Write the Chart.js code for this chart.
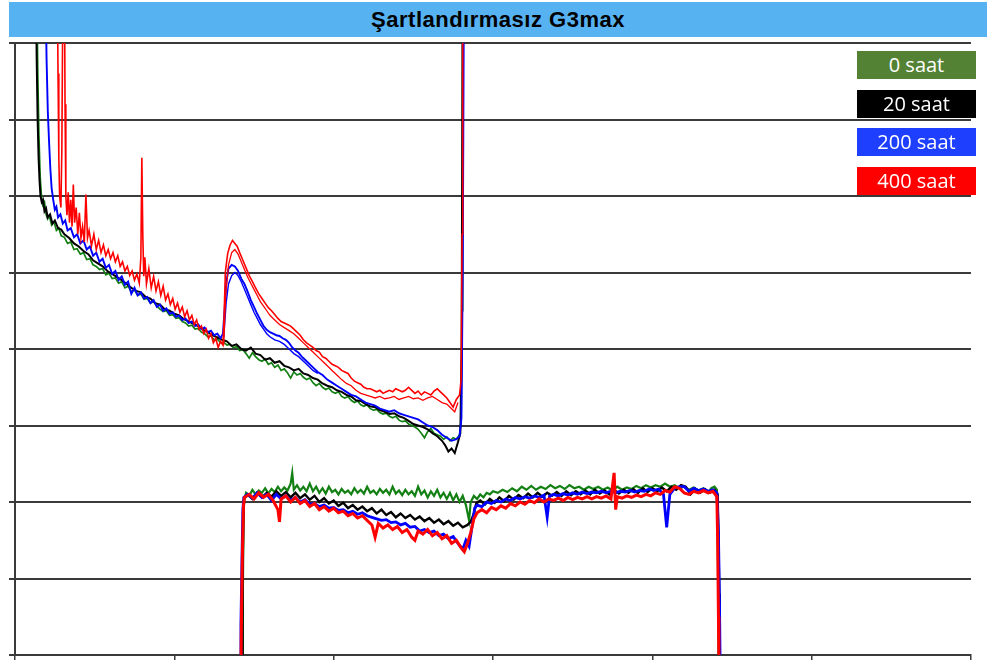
<!DOCTYPE html>
<html>
<head>
<meta charset="utf-8">
<script src="https://cdn.jsdelivr.net/npm/chart.js@4"></script>
<style>
html,body{margin:0;padding:0;background:#fff;}
#wrap{position:relative;width:987px;height:662px;overflow:hidden;}
#title{position:absolute;left:9px;top:2px;width:978px;height:35px;background:#57b2f2;
  font-family:"Liberation Sans",Arial,sans-serif;font-weight:bold;font-size:22px;letter-spacing:0.5px;
  color:#000;text-align:center;line-height:35px;}
.lg{position:absolute;left:857px;width:119px;height:28px;color:#fff;font-family:"Open Sans",sans-serif;
  font-size:20px;line-height:28px;text-align:center;}
canvas{position:absolute;left:0;top:0;}
</style>
</head>
<body>
<div id="wrap">
<canvas id="c" width="987" height="662"></canvas>
<div id="title">Şartlandırmasız G3max</div>
<div id="legend"></div>
</div>
<script>
// ---- data ----
const xTicks = [0, 100, 200, 300, 400, 500, 600];
const yTicks = [0, 1, 2, 3, 4, 5, 6, 7, 8];
const seriesNames = ["0 saat", "20 saat", "200 saat", "400 saat"];

const greenCurve = [[13.5,9],[14.3,7.6],[15,6.8],[15.8,6.25],[16.6,6.0],[17.5,5.88],[18.5,5.92],[19.5,5.76],[20.5,5.7],[21.5,5.74],[23,5.62],[24.5,5.66],[26,5.55],[27.5,5.58],[29,5.48],[31,5.46],[33,5.38],[35,5.4],[37,5.3],[39,5.31],[41,5.24],[43,5.26],[45,5.17],[47,5.18],[49,5.1],[51,5.08],[53,5.04],[55,5.05],[57,4.97],[59,4.99],[61,4.92],[63,4.93],[65,4.86],[67,4.88],[69,4.8],[71,4.82],[73,4.75],[75,4.77],[77,4.7],[79,4.72],[81,4.65],[83,4.66],[85,4.6],[87,4.62],[89,4.56],[91,4.52],[93,4.49],[95,4.5],[97,4.44],[99,4.45],[101,4.4],[103,4.41],[105,4.36],[107,4.34],[109,4.3],[111,4.31],[113,4.26],[115,4.27],[117,4.22],[119,4.2],[121,4.16],[123,4.17],[125,4.12],[127,4.13],[129,4.08],[131,4.09],[133,4.05],[135,4.06],[137,4.02],[139,4.03],[141,3.98],[143,3.99],[145,3.94],[147,3.88],[149,3.95],[151,3.9],[153,3.86],[155,3.84],[157,3.87],[159,3.8],[161,3.82],[163,3.76],[165,3.79],[167,3.72],[169,3.74],[171,3.69],[173,3.62],[175,3.7],[177,3.66],[179,3.68],[181,3.63],[183,3.6],[185,3.62],[187,3.56],[189,3.52],[191,3.55],[193,3.5],[195,3.47],[197,3.49],[199,3.44],[201,3.42],[203,3.44],[205,3.38],[207,3.36],[209,3.38],[211,3.33],[213,3.3],[215,3.32],[217,3.27],[219,3.25],[221,3.27],[223,3.22],[225,3.2],[227,3.21],[229,3.17],[231,3.15],[233,3.16],[235,3.12],[237,3.1],[239,3.12],[241,3.07],[243,3.05],[245,3.06],[247,3.02],[249,3.0],[251,2.98],[253,2.95],[255,2.9],[257,2.84],[259,2.92],[261,2.96],[263,2.9],[265,2.88],[267,2.86],[269,2.82],[271,2.85],[273,2.8],[275,2.84],[277,2.82],[279,2.88],[280,3.05],[280.6,4.5],[281,9]];

const blackCurve = [[13,9],[13.6,7.8],[14.2,7.0],[14.8,6.5],[15.4,6.2],[16,6.0],[16.8,5.92],[17.6,5.95],[18.5,5.8],[19.5,5.84],[20.5,5.72],[22,5.76],[23.5,5.64],[25,5.68],[27,5.58],[29,5.56],[31,5.5],[34,5.45],[37,5.38],[40,5.34],[43,5.28],[46,5.24],[49,5.16],[52,5.12],[55,5.08],[58,5.02],[61,4.98],[64,4.94],[67,4.9],[70,4.85],[73,4.8],[76,4.76],[79,4.74],[82,4.68],[85,4.66],[88,4.6],[91,4.58],[94,4.52],[97,4.5],[100,4.46],[103,4.44],[106,4.39],[109,4.36],[112,4.33],[115,4.3],[118,4.25],[121,4.22],[124,4.18],[127,4.15],[130,4.12],[133,4.1],[136,4.04],[139,4.06],[142,4.0],[145,3.98],[148,4.02],[151,3.94],[154,3.92],[157,3.86],[160,3.88],[163,3.82],[166,3.84],[169,3.78],[172,3.76],[175,3.72],[178,3.74],[181,3.68],[184,3.66],[187,3.62],[190,3.6],[193,3.55],[196,3.52],[199,3.5],[202,3.46],[205,3.44],[208,3.4],[211,3.38],[214,3.33],[217,3.32],[220,3.28],[223,3.25],[226,3.24],[229,3.2],[232,3.18],[235,3.15],[238,3.16],[241,3.12],[244,3.1],[247,3.06],[250,3.02],[253,3.0],[256,2.98],[259,2.95],[262,2.9],[265,2.86],[268,2.8],[270,2.74],[272,2.66],[274,2.7],[276,2.64],[278,2.78],[279.5,2.9],[280.3,4],[281,9]];

const blueCurve = [[19,9],[19.8,7.8],[20.6,7.1],[21.4,6.7],[22.2,6.35],[23,6.1],[24,5.95],[25,5.82],[26,5.86],[27,5.72],[28.5,5.76],[30,5.64],[31.5,5.68],[33,5.55],[35,5.58],[37,5.46],[39,5.5],[41,5.38],[43,5.42],[45,5.3],[47,5.34],[49,5.22],[51,5.26],[53,5.14],[55,5.18],[57,5.06],[59,5.1],[61,4.98],[63,5.02],[65,4.9],[67,4.95],[69,4.84],[71,4.88],[73,4.72],[75,4.8],[77,4.7],[79,4.74],[81,4.66],[83,4.68],[85,4.6],[87,4.64],[89,4.55],[91,4.58],[93,4.5],[95,4.53],[97,4.46],[99,4.48],[101,4.42],[103,4.44],[105,4.38],[107,4.4],[109,4.34],[111,4.36],[113,4.3],[115,4.32],[117,4.26],[119,4.28],[121,4.22],[123,4.24],[125,4.18],[127,4.2],[129,4.14],[130.5,4.2],[131.5,4.5],[132.5,4.85],[134,5.05],[136,5.1],[138,5.08],[140,5.02],[142,4.92],[144,4.85],[146,4.75],[148,4.64],[150,4.55],[152,4.46],[154,4.38],[156,4.3],[158,4.25],[160,4.22],[162,4.2],[164,4.18],[166,4.17],[168,4.14],[170,4.12],[172,4.08],[174,4.02],[176,3.98],[178,3.95],[180,3.9],[182,3.86],[184,3.82],[186,3.78],[188,3.74],[190,3.7],[193,3.66],[196,3.6],[199,3.56],[202,3.52],[205,3.48],[208,3.44],[211,3.4],[214,3.38],[217,3.34],[220,3.3],[223,3.28],[226,3.26],[229,3.22],[232,3.2],[235,3.18],[238,3.2],[241,3.16],[244,3.14],[247,3.12],[250,3.1],[253,3.08],[256,3.04],[259,3.0],[262,2.98],[265,2.94],[268,2.88],[271,2.84],[274,2.8],[277,2.82],[279,2.86],[280.2,3.1],[281,5],[281.8,9]];

const blueCurveB = [[131,4.15],[132.5,4.6],[134,4.85],[136,4.96],[138,5.0],[140,4.96],[142,4.88],[144,4.78],[146,4.68],[148,4.58],[150,4.48],[152,4.4],[154,4.32],[156,4.26],[158,4.2],[160,4.16],[163,4.12],[166,4.1],[169,4.06],[172,4.0],[175,3.94],[178,3.9],[181,3.84],[184,3.78],[187,3.72],[190,3.68]];

const redCurve = [[26.5,9],[27,7.6],[27.5,6.5],[28,6.0],[28.8,5.85],[29.4,6.6],[29.9,8.2],[30.3,9],[31,9],[31.4,7.2],[31.9,6.0],[32.6,5.75],[33.4,6.05],[34.2,5.65],[35,5.95],[35.8,5.6],[36.6,6.15],[37.4,5.65],[38.4,5.85],[39.4,5.5],[40.4,5.78],[41.4,5.45],[42.4,5.6],[43.5,5.4],[44.5,6.02],[45.5,5.45],[46.5,5.55],[48,5.35],[49.5,5.5],[51,5.3],[52.5,5.42],[54,5.26],[55.5,5.36],[57,5.22],[58.5,5.3],[60,5.18],[61.5,5.26],[63,5.14],[64.5,5.22],[66,5.08],[67.5,5.14],[69,5.02],[70.5,5.08],[72,4.96],[73.5,5.02],[75,4.9],[76.5,4.98],[78,4.86],[79,5.2],[79.6,6.5],[80.2,5.5],[80.8,4.95],[81.5,5.2],[82.5,4.85],[84,5.05],[85.5,4.8],[87,4.95],[88.5,4.76],[90,4.88],[91.5,4.7],[93,4.82],[94.5,4.64],[96,4.72],[97.5,4.58],[99,4.66],[100.5,4.52],[102,4.6],[103.5,4.48],[105,4.55],[106.5,4.42],[108,4.5],[109.5,4.38],[111,4.44],[112.5,4.32],[114,4.38],[115.5,4.26],[117,4.3],[118.5,4.2],[120,4.26],[121.5,4.14],[123,4.2],[124.5,4.08],[126,4.14],[127.5,4.02],[129,4.1],[130.5,4.05],[131.2,4.4],[132,5.0],[133.5,5.25],[135,5.36],[136.5,5.42],[138,5.38],[139.5,5.34],[141,5.26],[143,5.16],[145,5.06],[147,4.96],[149,4.88],[151,4.8],[153,4.72],[155,4.66],[157,4.6],[159,4.54],[161,4.5],[163,4.45],[165,4.4],[167,4.36],[169,4.34],[171,4.32],[173,4.3],[175,4.26],[177,4.22],[179,4.18],[181,4.12],[183,4.08],[185,4.05],[187,4.02],[189,3.98],[191,3.96],[193,3.9],[195,3.88],[197,3.84],[199,3.8],[201,3.78],[203,3.76],[205,3.72],[207,3.7],[209,3.68],[211,3.62],[213,3.58],[215,3.56],[217,3.54],[219,3.5],[221,3.48],[223,3.48],[225,3.46],[227,3.44],[229,3.46],[231,3.42],[233,3.44],[235,3.46],[237,3.44],[239,3.48],[241,3.46],[243,3.44],[245,3.46],[247,3.5],[249,3.46],[251,3.42],[253,3.45],[255,3.4],[257,3.44],[259,3.42],[261,3.4],[263,3.45],[265,3.48],[267,3.44],[269,3.4],[271,3.36],[273,3.3],[275,3.24],[277,3.34],[279,3.4],[280,3.6],[280.6,5.5],[281,9]];

const redCurveB = [[131,4.05],[132.2,4.7],[134,5.1],[136,5.26],[138,5.3],[140,5.24],[142,5.14],[144,5.04],[146,4.94],[148,4.86],[150,4.78],[152,4.7],[154,4.62],[156,4.56],[158,4.5],[160,4.44],[163,4.38],[166,4.32],[169,4.28],[172,4.24],[175,4.2],[178,4.14],[181,4.08],[184,4.02],[187,3.96],[190,3.9],[193,3.84],[196,3.78],[199,3.72],[202,3.66],[205,3.6],[208,3.55],[211,3.52],[214,3.46],[217,3.42],[220,3.4],[223,3.38],[226,3.36],[229,3.38],[232,3.35],[235,3.36],[238,3.38],[241,3.34],[244,3.36],[247,3.38],[250,3.35],[253,3.36],[256,3.33],[259,3.36],[262,3.38],[265,3.34],[268,3.3],[271,3.28],[274,3.22],[276,3.18],[278,3.3]];

const greenPlateau = [[142.8,-0.2],[143,0.8],[143.4,1.7],[143.8,2.02],[145,2.12],[147,2.08],[149,2.16],[151,2.1],[153,2.15],[155,2.12],[157,2.18],[159,2.11],[161,2.17],[163,2.13],[165,2.2],[167,2.14],[169,2.19],[171,2.15],[173,2.24],[174,2.38],[175,2.16],[177,2.22],[179,2.15],[181,2.2],[183,2.14],[185,2.24],[187,2.14],[189,2.2],[191,2.12],[193,2.18],[195,2.11],[197,2.2],[199,2.13],[201,2.16],[203,2.1],[205,2.17],[207,2.12],[209,2.15],[211,2.1],[213,2.18],[215,2.12],[217,2.16],[219,2.11],[221,2.2],[223,2.12],[225,2.15],[227,2.1],[229,2.17],[231,2.12],[233,2.16],[235,2.1],[237,2.2],[239,2.11],[241,2.15],[243,2.09],[245,2.16],[247,2.1],[249,2.14],[251,2.08],[253,2.2],[255,2.1],[257,2.15],[259,2.06],[261,2.14],[263,2.08],[265,2.16],[267,2.06],[269,2.12],[271,2.04],[273,2.12],[275,2.02],[277,2.1],[279,2.0],[281,2.08],[283,1.96],[285,1.76],[286,2.0],[288,2.08],[290,2.04],[292,2.1],[294,2.06],[296,2.12],[298,2.1],[300,2.14],[303,2.12],[306,2.16],[309,2.13],[312,2.18],[315,2.14],[318,2.2],[321,2.16],[324,2.21],[327,2.16],[330,2.2],[333,2.17],[336,2.22],[339,2.18],[342,2.21],[345,2.17],[348,2.22],[351,2.18],[354,2.2],[357,2.16],[360,2.2],[363,2.17],[366,2.2],[369,2.16],[372,2.19],[375,2.15],[378,2.2],[381,2.16],[384,2.19],[387,2.17],[390,2.21],[393,2.18],[396,2.22],[399,2.19],[402,2.22],[405,2.2],[408,2.24],[411,2.2],[414,2.22],[417,2.18],[420,2.2],[423,2.16],[426,2.19],[429,2.15],[432,2.18],[435,2.12],[437,2.18],[439,2.2],[440.5,2.16],[441.2,1.2],[441.6,-0.2]];

const blackPlateau = [[142.5,-0.2],[142.8,1.0],[143.3,1.8],[143.8,2.05],[146,2.1],[149,2.04],[152,2.12],[155,2.06],[158,2.12],[161,2.07],[164,2.14],[167,2.08],[170,2.13],[173,2.06],[176,2.12],[179,2.05],[182,2.1],[185,2.03],[188,2.08],[191,2.0],[194,2.05],[197,1.98],[200,2.02],[203,1.95],[206,1.99],[209,1.92],[212,1.96],[215,1.9],[218,1.94],[221,1.88],[224,1.92],[227,1.85],[230,1.9],[233,1.83],[236,1.87],[239,1.8],[242,1.85],[245,1.79],[248,1.83],[251,1.77],[254,1.81],[257,1.75],[260,1.79],[263,1.73],[266,1.77],[269,1.71],[272,1.75],[275,1.69],[278,1.73],[281,1.67],[284,1.7],[286,1.74],[288,1.85],[289.5,1.98],[292,2.02],[295,1.97],[298,2.04],[301,1.99],[304,2.06],[307,2.01],[310,2.08],[313,2.03],[316,2.09],[319,2.05],[322,2.11],[325,2.06],[328,2.12],[331,2.07],[334,2.12],[337,2.08],[340,2.13],[343,2.08],[346,2.14],[349,2.09],[352,2.14],[355,2.1],[358,2.15],[361,2.1],[364,2.16],[367,2.11],[370,2.15],[373,2.1],[376,2.16],[379,2.11],[382,2.16],[385,2.12],[388,2.17],[391,2.12],[394,2.18],[397,2.13],[400,2.18],[403,2.14],[406,2.19],[409,2.14],[412,2.2],[415,2.16],[418,2.22],[421,2.2],[424,2.1],[427,2.17],[430,2.12],[433,2.17],[436,2.12],[439,2.16],[441,2.1],[441.6,1.4],[442,0.8],[442.3,-0.2]];

const bluePlateau = [[141.5,-0.2],[141.8,0.4],[142.4,1.2],[143,1.9],[143.6,2.06],[146,2.1],[149,2.05],[152,2.12],[155,2.06],[158,2.1],[161,2.02],[164,2.1],[167,2.04],[170,2.08],[173,2.02],[176,2.06],[179,2.0],[182,2.03],[185,1.97],[188,1.98],[191,1.94],[194,1.96],[197,1.92],[200,1.93],[203,1.89],[206,1.9],[209,1.86],[212,1.88],[215,1.84],[218,1.86],[221,1.82],[224,1.8],[227,1.78],[230,1.76],[233,1.77],[236,1.73],[239,1.74],[242,1.7],[245,1.72],[248,1.67],[251,1.68],[254,1.62],[257,1.64],[260,1.6],[263,1.62],[266,1.56],[269,1.58],[272,1.52],[275,1.55],[278,1.46],[281,1.38],[283,1.5],[285,1.42],[287,1.7],[288.5,1.92],[290,1.96],[293,1.94],[296,2.0],[299,1.98],[302,2.02],[305,2.0],[308,2.04],[311,2.02],[314,2.06],[317,2.04],[320,2.07],[323,2.05],[326,2.08],[329,2.06],[332,2.09],[334,1.8],[335.5,2.08],[338,2.1],[341,2.08],[344,2.11],[347,2.09],[350,2.12],[353,2.1],[356,2.13],[359,2.11],[362,2.13],[365,2.12],[368,2.14],[371,2.12],[374,2.14],[377,2.12],[380,2.14],[383,2.13],[386,2.15],[389,2.13],[392,2.15],[395,2.14],[398,2.17],[401,2.15],[404,2.17],[407,2.1],[409,1.67],[411,2.1],[414,2.18],[417,2.2],[420,2.2],[423,2.14],[426,2.18],[429,2.15],[432,2.17],[435,2.14],[438,2.16],[440.5,2.12],[441.5,1.6],[442.2,0.6],[442.6,-0.2]];

const redPlateau = [[141.8,-0.2],[142.2,0.6],[142.8,1.4],[143.4,1.95],[144,2.06],[147,2.1],[150,2.04],[153,2.12],[156,2.06],[159,2.1],[162,2.02],[165,1.9],[166,1.74],[167,2.04],[170,2.08],[173,2.0],[176,2.06],[179,1.98],[182,2.02],[185,1.94],[188,1.98],[191,1.9],[194,1.94],[197,1.88],[200,1.92],[203,1.86],[206,1.88],[209,1.82],[212,1.85],[215,1.79],[218,1.82],[221,1.76],[224,1.7],[226,1.54],[228,1.72],[231,1.66],[234,1.7],[237,1.64],[240,1.68],[243,1.6],[246,1.64],[249,1.54],[251,1.5],[253,1.62],[256,1.58],[259,1.64],[262,1.56],[265,1.6],[268,1.52],[271,1.56],[274,1.46],[277,1.5],[280,1.4],[282,1.35],[284,1.46],[286,1.6],[288,1.78],[290,1.86],[293,1.9],[296,1.86],[299,1.93],[302,1.9],[305,1.95],[308,1.92],[311,1.98],[314,1.95],[317,2.0],[320,1.97],[323,2.02],[326,1.99],[329,2.04],[332,2.0],[335,2.04],[338,2.02],[341,2.05],[344,2.02],[347,2.06],[350,2.03],[353,2.06],[356,2.04],[359,2.07],[362,2.04],[365,2.07],[368,2.05],[371,2.08],[374,2.04],[376,2.38],[377,1.9],[378,2.07],[381,2.05],[384,2.08],[387,2.06],[390,2.09],[393,2.07],[396,2.1],[399,2.08],[402,2.12],[405,2.1],[408,2.15],[411,2.13],[414,2.2],[417,2.18],[420,2.12],[423,2.1],[426,2.14],[429,2.12],[432,2.15],[435,2.12],[438,2.14],[440.5,2.07],[441,1.5],[441.5,0.5],[441.8,-0.2]];

// ---- styling ----
const lineColors = ["#138013", "#000000", "#0000ff", "#ff0000"];
const legendColors = ["#548235", "#000000", "#1f3fff", "#ff0000"];
const legendTops = [51, 90, 128, 167];

function pts(arr){ return arr.map(p => ({x: p[0], y: p[1]})); }
function ds(arr, color, w){
  return {data: pts(arr), borderColor: color, backgroundColor: color, borderWidth: w,
          pointRadius: 0, tension: 0, fill: false};
}

const datasets = [
  ds(redCurve, lineColors[3], 1.6), ds(redCurveB, lineColors[3], 1.3), ds(redPlateau, lineColors[3], 3),
  ds(blueCurve, lineColors[2], 1.9), ds(blueCurveB, lineColors[2], 1.4), ds(bluePlateau, lineColors[2], 2.8),
  ds(blackCurve, lineColors[1], 2.0), ds(blackPlateau, lineColors[1], 2.4),
  ds(greenCurve, lineColors[0], 1.7), ds(greenPlateau, lineColors[0], 2.2)
];

const gridColor = "#3a3a3a";
new Chart(document.getElementById("c"), {
  type: "line",
  data: {datasets},
  options: {
    responsive: false, animation: false, events: [],
    layout: {padding: {left: 9, right: 16, top: 43, bottom: 2}},
    plugins: {legend: {display: false}, tooltip: {enabled: false}, title: {display: false}},
    scales: {
      x: {type: "linear", min: xTicks[0], max: xTicks[xTicks.length-1],
          afterBuildTicks: s => { s.ticks = xTicks.map(v => ({value: v})); },
          ticks: {display: false},
          grid: {drawOnChartArea: false, drawTicks: true, tickLength: 5, color: gridColor, lineWidth: 1.5},
          border: {display: true, color: gridColor, width: 2}},
      y: {type: "linear", min: yTicks[0], max: yTicks[yTicks.length-1],
          afterBuildTicks: s => { s.ticks = yTicks.map(v => ({value: v})); },
          ticks: {display: false},
          grid: {drawOnChartArea: true, drawTicks: true, tickLength: 6, color: gridColor, lineWidth: 2},
          border: {display: true, color: gridColor, width: 2}}
    }
  }
});

// legend boxes (HTML text)
const lg = document.getElementById("legend");
seriesNames.forEach((n, i) => {
  const d = document.createElement("div");
  d.className = "lg";
  d.style.top = legendTops[i] + "px";
  d.style.background = legendColors[i];
  d.textContent = n;
  lg.appendChild(d);
});
</script>
</body>
</html>
